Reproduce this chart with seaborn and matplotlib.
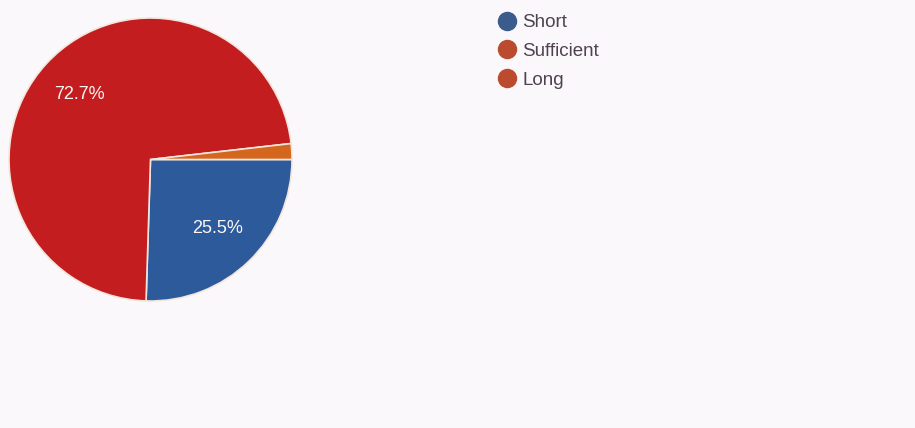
import seaborn as sns
import matplotlib.pyplot as plt
from matplotlib.lines import Line2D

categories = ["Short", "Sufficient", "Long"]
percentages = [25.5, 72.7, 1.8]
slice_colors = ["#2d5a9b", "#c41d1f", "#d4661e"]
legend_colors = ["#3b5b8c", "#bb4b2f", "#bb4b2f"]

sns.set_theme(style="white")
plt.rcParams['font.family'] = ['Liberation Sans', 'DejaVu Sans']

bg = "#fbf8fb"
fig = plt.figure(figsize=(9.15, 4.28), dpi=100, facecolor=bg)
ax = fig.add_axes([9 / 915, 1 - 301 / 428, 283 / 915, 283 / 428])
ax.set_facecolor(bg)


def show_pct(p):
    return f"{p:.1f}%" if p > 5 else ""


wedges, texts, autotexts = ax.pie(
    percentages, colors=slice_colors, startangle=0, counterclock=False,
    autopct=show_pct, pctdistance=0.68, radius=1,
    wedgeprops=dict(edgecolor="#f3e6dc", linewidth=1.2),
    textprops=dict(color="#fbf6f6", fontsize=13))
ax.set_xlim(-1, 1)
ax.set_ylim(-1, 1)
ax.set_aspect("equal")
ax.axis("off")

handles = [Line2D([0], [0], marker="o", linestyle="", markersize=13,
                  markerfacecolor=c, markeredgecolor=c) for c in legend_colors]
fig.legend(handles, categories, loc="upper left", bbox_to_anchor=(479 / 915, 1 - 1 / 428),
           frameon=False, fontsize=13.5, labelcolor="#4f4250", handletextpad=0.0,
           handlelength=1.6, labelspacing=0.62, borderpad=0.2)

fig.savefig("out.png", dpi=100, facecolor=bg)
